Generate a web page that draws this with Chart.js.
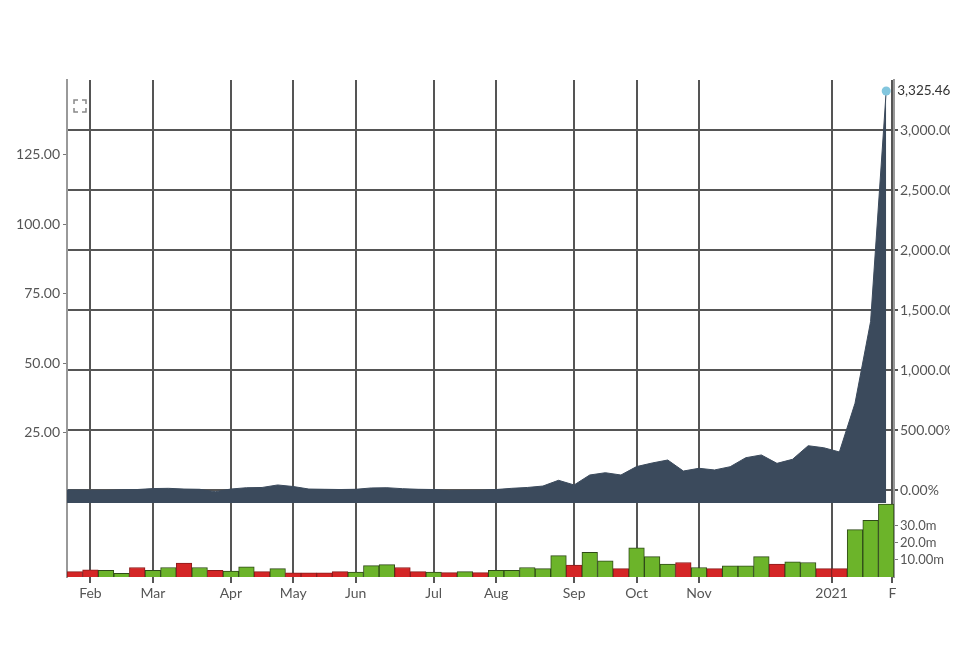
<!DOCTYPE html>
<html>
<head>
<meta charset="utf-8">
<title>Weekly performance</title>
<script src="https://cdn.jsdelivr.net/npm/chart.js@4.4.1/dist/chart.umd.min.js"></script>
<style>
    body { margin: 0; background: #fff; }
    #wrap { position: relative; width: 950px; height: 667px; }
</style>
</head>
<body>
<div id="wrap"><canvas id="chart" width="950" height="667"></canvas></div>
<script>
// one point per week (Monday of the week); the first one sits just off the left edge
var weeks = [
    '2020-01-20',
    '2020-01-27', '2020-02-03', '2020-02-10', '2020-02-17', '2020-02-24',
    '2020-03-02', '2020-03-09', '2020-03-16', '2020-03-23', '2020-03-30',
    '2020-04-06', '2020-04-13', '2020-04-20', '2020-04-27',
    '2020-05-04', '2020-05-11', '2020-05-18', '2020-05-25',
    '2020-06-01', '2020-06-08', '2020-06-15', '2020-06-22', '2020-06-29',
    '2020-07-06', '2020-07-13', '2020-07-20', '2020-07-27',
    '2020-08-03', '2020-08-10', '2020-08-17', '2020-08-24', '2020-08-31',
    '2020-09-07', '2020-09-14', '2020-09-21', '2020-09-28',
    '2020-10-05', '2020-10-12', '2020-10-19', '2020-10-26',
    '2020-11-02', '2020-11-09', '2020-11-16', '2020-11-23', '2020-11-30',
    '2020-12-07', '2020-12-14', '2020-12-21', '2020-12-28',
    '2021-01-04', '2021-01-11', '2021-01-18', '2021-01-25'
];
// % change since first week
var pctChange = [
    0,
    0, -2, -3, 2, 4, 12, 14, 8, 6, -14,
    8, 19, 21, 42, 29, 8, 6, 4, 6, 17,
    19, 11, 6, 4, -6, -4, -2, 4, 14, 21,
    33, 81, 42, 125, 144, 125, 195, 225, 250, 158,
    181, 167, 194, 269, 292, 222, 256, 369, 352, 317,
    722, 1404, 3325.46
];
// weekly volume, millions
var volume = [
    null,
    3.1, 4.1, 3.9, 2.2, 5.5, 3.9, 5.5, 8.1, 5.5, 3.9,
    3.5, 5.9, 3.1, 4.9, 2.4, 2.4, 2.4, 3.1, 2.8, 6.6,
    7.2, 5.5, 3.1, 2.8, 2.5, 3.1, 2.5, 3.9, 3.9, 5.5,
    4.9, 12.4, 6.9, 14.3, 9.4, 4.9, 16.9, 11.8, 7.5, 8.4,
    5.5, 4.9, 6.5, 6.5, 11.8, 7.5, 8.8, 8.4, 4.9, 4.9,
    27.5, 32.9, 42.4
];
// 1 = green bar, 0 = red bar
var upWeek = [
    0,
    0, 0, 1, 1, 0, 1, 1, 0, 1, 0,
    1, 1, 0, 1, 0, 0, 0, 0, 1, 1,
    1, 0, 0, 1, 0, 1, 0, 1, 1, 1,
    1, 1, 0, 1, 1, 0, 1, 1, 1, 0,
    1, 0, 1, 1, 1, 0, 1, 1, 0, 0,
    1, 1, 1
];
var basePrice = 4.32;
var priceTicks = [25, 50, 75, 100, 125];
var pctTicks = [0, 500, 1000, 1500, 2000, 2500, 3000];
var volTicks = [10, 20, 30];
var volTickLabels = ['10.00m', '20.0m', '30.0m'];
var xTickPos = [2, 6, 11, 15, 19, 24, 28, 33, 37, 41, 49.5, 53.4];
var xTickLabels = ['Feb', 'Mar', 'Apr', 'May', 'Jun', 'Jul', 'Aug', 'Sep', 'Oct', 'Nov', '2021', 'F'];

var pctMin = -108.3, pctMax = 3416.7;
var mainWeight = 423, volWeight = 74;

// left price axis spans both panels, so stretch its range over the volume panel too
var pctPerPx = (pctMax - pctMin) / mainWeight;
var priceMin = basePrice * (1 + (pctMin - volWeight * pctPerPx) / 100);
var priceMax = basePrice * (1 + pctMax / 100);

function fmt2(v) {
    return v.toLocaleString('en-US', { minimumFractionDigits: 2, maximumFractionDigits: 2 });
}

var areaPoints = [], volPoints = [], barColors = [], barBorders = [];
for (var i = 0; i < weeks.length; i++) {
    areaPoints.push({ x: i, y: pctChange[i] });
    volPoints.push({ x: i, y: volume[i] });
    barColors.push(upWeek[i] ? '#6cb42a' : '#d42626');
    barBorders.push(upWeek[i] ? '#2f4a18' : '#8a1c1c');
}

var lastIdx = weeks.length - 1;
var labelFont = { family: 'Lato', size: 14 };
var gridColor = '#555';

var extras = {
    id: 'extras',
    afterDraw: function (chart) {
        var ctx = chart.ctx;
        var pt = chart.getDatasetMeta(0).data[lastIdx];
        ctx.save();
        ctx.font = '13.5px Lato';
        ctx.fillStyle = '#333';
        ctx.textBaseline = 'middle';
        ctx.textAlign = 'left';
        ctx.fillText(fmt2(pctChange[lastIdx]), pt.x + 11, pt.y);
        // expand icon, top left of the plot
        var a = chart.chartArea;
        var x0 = a.left + 7, y0 = a.top + 20, s = 12, c = 4;
        ctx.strokeStyle = '#888';
        ctx.lineWidth = 1.5;
        ctx.beginPath();
        ctx.moveTo(x0, y0 + c); ctx.lineTo(x0, y0); ctx.lineTo(x0 + c, y0);
        ctx.moveTo(x0 + s - c, y0); ctx.lineTo(x0 + s, y0); ctx.lineTo(x0 + s, y0 + c);
        ctx.moveTo(x0 + s, y0 + s - c); ctx.lineTo(x0 + s, y0 + s); ctx.lineTo(x0 + s - c, y0 + s);
        ctx.moveTo(x0 + c, y0 + s); ctx.lineTo(x0, y0 + s); ctx.lineTo(x0, y0 + s - c);
        ctx.stroke();
        ctx.restore();
    }
};

var ctx = document.getElementById('chart').getContext('2d');
var myChart = new Chart(ctx, {
    type: 'bar',
    data: {
        datasets: [{
            type: 'line',
            label: 'Change',
            data: areaPoints,
            xAxisID: 'x',
            yAxisID: 'yPct',
            borderColor: '#3b4a5c',
            backgroundColor: '#3b4a5c',
            borderWidth: 1,
            tension: 0,
            fill: 'start',
            pointRadius: function (c) { return c.dataIndex === lastIdx ? 4.5 : 0; },
            pointBackgroundColor: '#82c6de',
            pointBorderWidth: 0
        }, {
            type: 'bar',
            label: 'Volume',
            data: volPoints,
            xAxisID: 'x',
            yAxisID: 'yVol',
            backgroundColor: barColors,
            borderColor: barBorders,
            borderWidth: 1,
            barPercentage: 1,
            categoryPercentage: 1
        }]
    },
    options: {
        responsive: false,
        animation: false,
        layout: { padding: { top: 80, bottom: 60, left: 0, right: 0 } },
        plugins: {
            legend: { display: false },
            tooltip: { enabled: false }
        },
        scales: {
            x: {
                type: 'linear',
                min: 0.5,
                max: 53.5,
                offset: false,
                afterBuildTicks: function (scale) {
                    scale.ticks = xTickPos.map(function (v) { return { value: v }; });
                },
                afterFit: function (scale) { scale.height = 30; },
                ticks: {
                    autoSkip: false,
                    maxRotation: 0,
                    color: '#555',
                    font: labelFont,
                    padding: 2,
                    callback: function (v, i) { return xTickLabels[i]; }
                },
                grid: { color: gridColor, lineWidth: 2, offset: false, tickLength: 6 },
                border: { display: false }
            },
            yPrice: {
                type: 'linear',
                position: 'left',
                min: priceMin,
                max: priceMax,
                afterBuildTicks: function (scale) {
                    scale.ticks = priceTicks.map(function (v) { return { value: v }; });
                },
                afterFit: function (scale) { scale.width = 67; },
                ticks: {
                    autoSkip: false,
                    color: '#555',
                    font: labelFont,
                    padding: 3,
                    callback: function (v) { return v.toFixed(2); }
                },
                grid: { drawOnChartArea: false, tickLength: 4, color: '#777', lineWidth: 1 },
                border: { color: '#999', width: 2 }
            },
            yPct: {
                type: 'linear',
                position: 'right',
                stack: 'right',
                stackWeight: mainWeight,
                min: pctMin,
                max: pctMax,
                afterBuildTicks: function (scale) {
                    scale.ticks = pctTicks.map(function (v) { return { value: v }; });
                },
                afterFit: function (scale) { scale.width = 56; },
                ticks: {
                    autoSkip: false,
                    color: '#555',
                    font: labelFont,
                    padding: 2,
                    callback: function (v) { return fmt2(v) + '%'; }
                },
                grid: { color: gridColor, lineWidth: 2, tickLength: 4 },
                border: { color: '#999', width: 2 }
            },
            yVol: {
                type: 'linear',
                position: 'right',
                stack: 'right',
                stackWeight: volWeight,
                min: 0,
                max: 43,
                afterBuildTicks: function (scale) {
                    scale.ticks = volTicks.map(function (v) { return { value: v }; });
                },
                afterFit: function (scale) { scale.width = 56; },
                ticks: {
                    autoSkip: false,
                    color: '#555',
                    font: { family: 'Lato', size: 13 },
                    padding: 2,
                    callback: function (v, i) { return volTickLabels[i]; }
                },
                grid: { drawOnChartArea: false, tickLength: 4, color: '#777', lineWidth: 1 },
                border: { color: '#999', width: 2 }
            }
        }
    },
    plugins: [extras]
});
</script>
</body>
</html>
